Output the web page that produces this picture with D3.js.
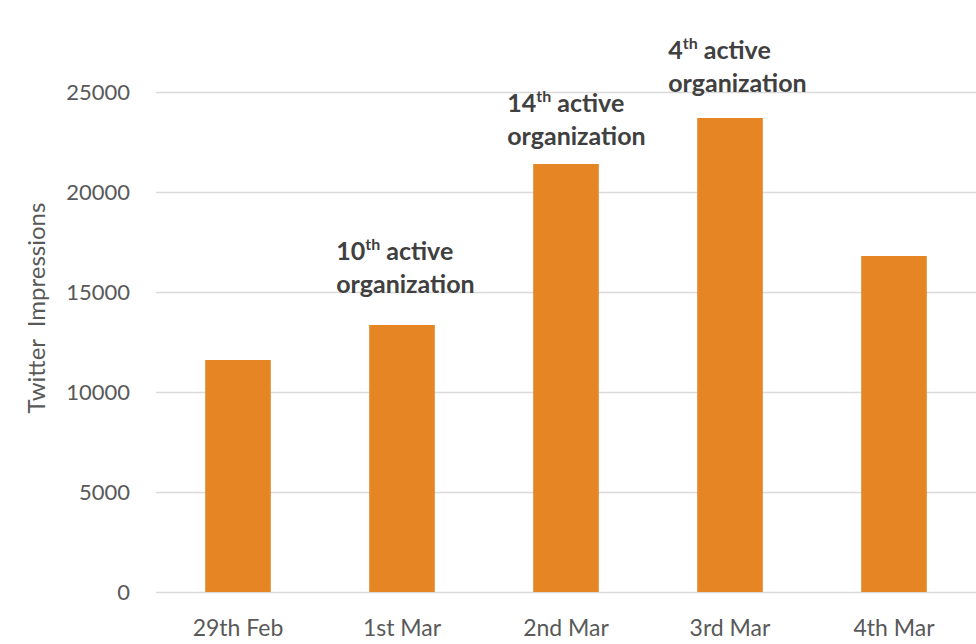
<!DOCTYPE html>
<html>
<head>
<meta charset="utf-8">
<script src="https://cdn.jsdelivr.net/npm/d3@7"></script>
<style>
	body { margin: 0; background: #fff; }
	text { font-family: Lato, "Open Sans", sans-serif; }
</style>
</head>
<body>
<script>
//chart data
var days = ["29th Feb", "1st Mar", "2nd Mar", "3rd Mar", "4th Mar"];
var impressions = [11600, 13350, 21400, 23700, 16800];
var yTicks = [0, 5000, 10000, 15000, 20000, 25000];
//annotations: day, rank number, ordinal suffix
var noteDays = ["1st Mar", "2nd Mar", "3rd Mar"];
var noteRanks = ["10", "14", "4"];
var noteSuffix = ["th", "th", "th"];
//annotation placement relative to the bar (px): left shift, lift above top
var noteShift = [33, 26, 29];
var noteLift = [65, 52, 59];

window.onload = function(){
	var w = 976, h = 644;

	var svg = d3.select("body")
		.append("svg")
		.attr("width", w)
		.attr("height", h);

	var x = d3.scaleBand()
		.domain(days)
		.range([156, 976])
		.paddingInner(0.6)
		.paddingOuter(0.3);

	var y = d3.scaleLinear()
		.domain([0, 25000])
		.range([592, 92]);

	//gridlines + y tick labels
	var yAxis = d3.axisLeft(y)
		.tickValues(yTicks)
		.tickSize(-(976 - 156))
		.tickPadding(26)
		.tickFormat(d3.format("d"));

	var gy = svg.append("g")
		.attr("class", "y axis")
		.attr("transform", "translate(156,0)")
		.call(yAxis);
	gy.select(".domain").remove();
	gy.selectAll(".tick line")
		.attr("stroke", "#d9d9d9")
		.attr("stroke-width", 1.5);
	gy.selectAll(".tick text")
		.attr("fill", "#595959")
		.style("font-size", "22px")
		.attr("dy", "0.35em");

	//bars
	svg.selectAll(".bar")
		.data(impressions)
		.enter()
		.append("rect")
		.attr("class", "bar")
		.attr("x", function(d, i){ return x(days[i]); })
		.attr("width", x.bandwidth())
		.attr("y", function(d){ return y(d); })
		.attr("height", function(d){ return y(0) - y(d); })
		.style("fill", "#e58524");

	//x labels
	var xAxis = d3.axisBottom(x).tickSize(0).tickPadding(28);
	var gx = svg.append("g")
		.attr("class", "x axis")
		.attr("transform", "translate(0,592)")
		.call(xAxis);
	gx.select(".domain").remove();
	gx.selectAll(".tick text")
		.attr("fill", "#595959")
		.style("font-size", "23px");

	//y axis title
	svg.append("text")
		.attr("transform", "translate(45,308) rotate(-90)")
		.attr("text-anchor", "middle")
		.attr("fill", "#595959")
		.style("font-size", "24px")
		.style("white-space", "pre")
		.text("Twitter  Impressions");

	//annotations above bars
	var notes = svg.selectAll(".note")
		.data(noteDays)
		.enter()
		.append("g")
		.attr("class", "note")
		.attr("transform", function(d, i){
			var idx = days.indexOf(d);
			return "translate(" + (x(d) - noteShift[i]) + "," + (y(impressions[idx]) - noteLift[i]) + ")";
		});

	var line1 = notes.append("text")
		.attr("fill", "#404040")
		.style("font-size", "25px")
		.style("font-weight", "bold");
	line1.append("tspan")
		.text(function(d, i){ return noteRanks[i]; });
	line1.append("tspan")
		.attr("dy", "-10")
		.style("font-size", "16px")
		.text(function(d, i){ return noteSuffix[i]; });
	line1.append("tspan")
		.attr("dy", "10")
		.text(" active");

	notes.append("text")
		.attr("y", 33)
		.attr("fill", "#404040")
		.style("font-size", "25px")
		.style("font-weight", "bold")
		.text("organization");
};
</script>
</body>
</html>
